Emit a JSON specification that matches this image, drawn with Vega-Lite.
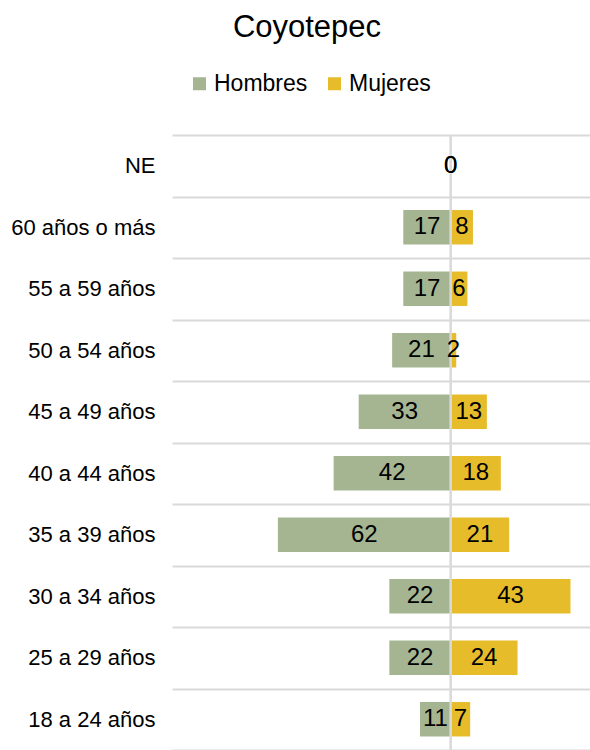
{
  "$schema": "https://vega.github.io/schema/vega-lite/v6.json",
  "autosize": {"type": "none"},
  "padding": {"left": 172, "top": 135, "right": 0, "bottom": 0},
  "width": 418,
  "height": 615,
  "background": "white",
  "title": {
    "text": "Coyotepec",
    "font": "Liberation Sans",
    "fontSize": 31,
    "fontWeight": "normal",
    "color": "#000000",
    "anchor": "middle",
    "frame": "group",
    "dx": -74,
    "offset": 28
  },
  "config": {
    "view": {"stroke": null},
    "font": "Liberation Sans"
  },
  "data": {
    "values": [
      {"grupo": "NE", "sexo": "Hombres", "valor": 0},
      {"grupo": "NE", "sexo": "Mujeres", "valor": 0},
      {"grupo": "60 años o más", "sexo": "Hombres", "valor": -17},
      {"grupo": "60 años o más", "sexo": "Mujeres", "valor": 8},
      {"grupo": "55 a 59 años", "sexo": "Hombres", "valor": -17},
      {"grupo": "55 a 59 años", "sexo": "Mujeres", "valor": 6},
      {"grupo": "50 a 54 años", "sexo": "Hombres", "valor": -21},
      {"grupo": "50 a 54 años", "sexo": "Mujeres", "valor": 2},
      {"grupo": "45 a 49 años", "sexo": "Hombres", "valor": -33},
      {"grupo": "45 a 49 años", "sexo": "Mujeres", "valor": 13},
      {"grupo": "40 a 44 años", "sexo": "Hombres", "valor": -42},
      {"grupo": "40 a 44 años", "sexo": "Mujeres", "valor": 18},
      {"grupo": "35 a 39 años", "sexo": "Hombres", "valor": -62},
      {"grupo": "35 a 39 años", "sexo": "Mujeres", "valor": 21},
      {"grupo": "30 a 34 años", "sexo": "Hombres", "valor": -22},
      {"grupo": "30 a 34 años", "sexo": "Mujeres", "valor": 43},
      {"grupo": "25 a 29 años", "sexo": "Hombres", "valor": -22},
      {"grupo": "25 a 29 años", "sexo": "Mujeres", "valor": 24},
      {"grupo": "18 a 24 años", "sexo": "Hombres", "valor": -11},
      {"grupo": "18 a 24 años", "sexo": "Mujeres", "valor": 7}
    ]
  },
  "transform": [
    {"calculate": "abs(datum.valor)", "as": "etiqueta"},
    {"calculate": "datum.valor / 2", "as": "centro"}
  ],
  "encoding": {
    "y": {
      "field": "grupo",
      "type": "nominal",
      "sort": null,
      "title": null,
      "scale": {"paddingInner": 0, "paddingOuter": 0},
      "axis": {
        "domain": false,
        "ticks": false,
        "grid": true,
        "tickBand": "extent",
        "gridColor": "#d9d9d9",
        "gridWidth": 2,
        "labelFont": "Liberation Sans",
        "labelFontSize": 22,
        "labelColor": "#000000",
        "labelPadding": 17
      }
    }
  },
  "layer": [
    {
      "mark": {"type": "bar", "height": {"band": 0.56}},
      "encoding": {
        "x": {
          "field": "valor",
          "type": "quantitative",
          "scale": {"domain": [-100, 50], "nice": false, "zero": false},
          "axis": null
        },
        "color": {
          "field": "sexo",
          "type": "nominal",
          "scale": {"domain": ["Hombres", "Mujeres"], "range": ["#a5b592", "#e7bc2b"]},
          "legend": {
            "title": null,
            "orient": "none",
            "direction": "horizontal",
            "legendX": 16,
            "legendY": -63,
            "padding": 0,
            "symbolType": "square",
            "symbolSize": 169,
            "symbolStrokeWidth": 0,
            "labelFont": "Liberation Sans",
            "labelFontSize": 23,
            "labelColor": "#000000",
            "labelOffset": 3,
            "columnPadding": 15
          }
        }
      }
    },
    {
      "mark": {"type": "rule", "color": "#d9d9d9", "strokeWidth": 2.5},
      "data": {"values": [{"cero": 0}]},
      "encoding": {
        "x": {"field": "cero", "type": "quantitative"},
        "y": null
      }
    },
    {
      "mark": {"type": "text", "font": "Liberation Sans", "fontSize": 24, "color": "#000000", "baseline": "middle", "align": "center"},
      "encoding": {
        "x": {"field": "centro", "type": "quantitative"},
        "text": {"field": "etiqueta", "type": "quantitative"}
      }
    }
  ]
}
